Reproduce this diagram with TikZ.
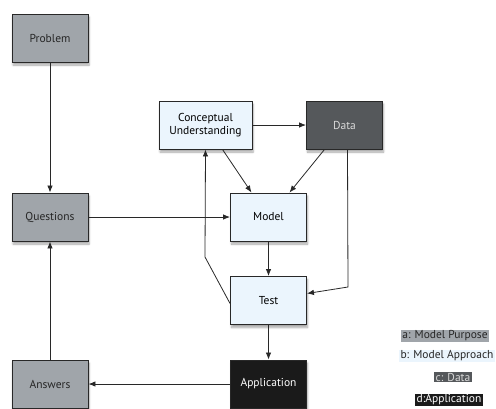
\documentclass[tikz,border=0pt]{standalone}
\usepackage{fontspec}
\setmainfont{PT Sans}
\usetikzlibrary{shadows.blur,arrows.meta}
\definecolor{gris}{RGB}{160,165,170}
\definecolor{bleupale}{RGB}{235,245,253}
\definecolor{grisfonce}{RGB}{85,88,91}
\definecolor{noirapp}{RGB}{26,26,26}
\definecolor{trait}{RGB}{40,40,40}

\begin{document}
\begin{tikzpicture}[x=1pt,y=-1pt,>={Latex[length=7pt,width=5.5pt]}]

		\useasboundingbox (0,0) rectangle (496,408);
		\tikzset{boite/.style={draw=trait, line width=0.9pt, minimum width=76pt, minimum height=48pt, align=center, font=\fontsize{11.5}{12.5}\selectfont, blur shadow={shadow xshift=1pt, shadow yshift=-3pt, shadow blur steps=6, shadow opacity=35}}}
		\tikzset{fleche/.style={->, draw=trait, line width=0.8pt}}
		\tikzset{legende/.style={inner xsep=1.5pt, inner ysep=0.5pt, font=\fontsize{11.5}{12}\selectfont}}

		\node[boite, fill=gris, text=black!85] (P) at (50,38) {Problem};
		\node[boite, fill=gris, text=black!85] (Q) at (50,217) {Questions};
		\node[boite, fill=gris, text=black!85] (A) at (50,384) {Answers};
		\node[boite, fill=bleupale, minimum width=93pt] (C) at (205.5,125) {Conceptual\\Understanding};
		\node[boite, fill=grisfonce, text=white!85!black] (D) at (344.5,125) {Data};
		\node[boite, fill=bleupale] (M) at (268.5,217) {Model};
		\node[boite, fill=bleupale] (T) at (268.5,300.5) {Test};
		\node[boite, fill=noirapp, text=white] (App) at (268.5,384) {Application};

		\coordinate (d1) at (348,287);
		\coordinate (t1) at (205,257);

    \draw[fleche] (P) -- (Q);
    \draw[fleche] (Q) -- (M);
    \draw[fleche] (A) -- (Q);
    \draw[fleche] (App) -- (A);
    \draw[fleche] (C) -- (D);
    \draw[fleche] ([xshift=17pt]C.south) -- ([xshift=-17pt]M.north);
    \draw[fleche] ([xshift=-20pt]D.south) -- ([xshift=21pt]M.north);
    \draw[fleche] (M) -- (T);
    \draw[fleche] (T) -- (App);
    \draw[fleche] ([xshift=3pt]D.south) -- (d1) -- ([yshift=7pt]T.east);
    \draw[fleche] ([yshift=-3pt]T.west) -- (t1) -- (C.south);

    \node[legende, fill=gris, text=black!85] (la) at (445,336) {a: Model Purpose};
    \node[legende, fill=bleupale, text=black!85] (lb) at (447,356) {b: Model Approach};
    \node[legende, fill=grisfonce, text=white!85!black] (lc) at (453,377) {c: Data};
    \node[legende, fill=noirapp, text=white] (ld) at (449,400) {d:Application};

\end{tikzpicture}
\end{document}
